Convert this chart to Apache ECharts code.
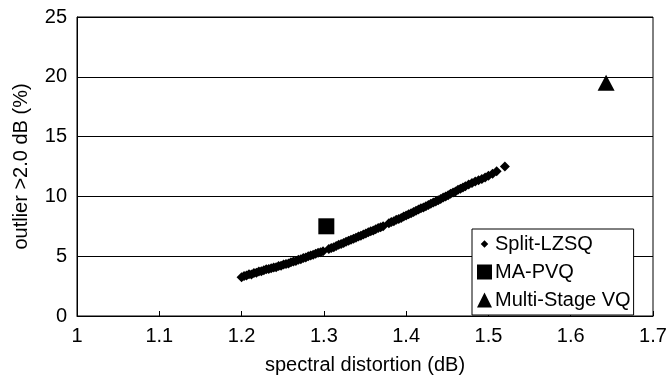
<!DOCTYPE html>
<html>
<head>
<meta charset="utf-8">
<script src="https://cdn.jsdelivr.net/npm/echarts@6/dist/echarts.min.js"></script>
<style>
  html, body { margin: 0; padding: 0; background: #fff; }
  #chart { width: 670px; height: 380px; }
</style>
</head>
<body>
<div id="chart"></div>
<script>
// spectral distortion (dB) vs outlier >2.0 dB (%)
const lzsqX = [1.200, 1.203, 1.206, 1.209, 1.212, 1.215, 1.218, 1.221, 1.224, 1.227,
  1.230, 1.233, 1.236, 1.239, 1.242, 1.245, 1.248, 1.251, 1.254, 1.257,
  1.260, 1.263, 1.266, 1.269, 1.272, 1.275, 1.278, 1.281, 1.284, 1.287,
  1.290, 1.293, 1.296, 1.299, 1.306, 1.309, 1.312, 1.315, 1.318, 1.321,
  1.324, 1.327, 1.330, 1.333, 1.336, 1.339, 1.342, 1.345, 1.348, 1.351,
  1.354, 1.357, 1.360, 1.363, 1.366, 1.369, 1.372, 1.379, 1.382, 1.385,
  1.388, 1.391, 1.394, 1.397, 1.400, 1.403, 1.406, 1.409, 1.412, 1.415,
  1.418, 1.421, 1.424, 1.427, 1.430, 1.433, 1.436, 1.439, 1.442, 1.445,
  1.448, 1.451, 1.454, 1.457, 1.460, 1.463, 1.466, 1.469, 1.472, 1.476,
  1.480, 1.484, 1.488, 1.492, 1.496, 1.500, 1.505, 1.510, 1.520];
const lzsqY = [3.25, 3.35, 3.38, 3.5, 3.48, 3.6, 3.62, 3.72, 3.75, 3.82,
  3.9, 3.92, 4.0, 4.05, 4.08, 4.18, 4.2, 4.3, 4.35, 4.4,
  4.5, 4.55, 4.6, 4.7, 4.75, 4.85, 4.9, 5.0, 5.05, 5.12,
  5.2, 5.28, 5.32, 5.42, 5.6, 5.68, 5.75, 5.85, 5.95, 6.02,
  6.1, 6.2, 6.3, 6.38, 6.45, 6.55, 6.65, 6.72, 6.82, 6.9,
  7.0, 7.08, 7.15, 7.25, 7.35, 7.42, 7.5, 7.75, 7.85, 7.92,
  8.05, 8.12, 8.2, 8.32, 8.4, 8.5, 8.6, 8.7, 8.8, 8.9,
  9.0, 9.08, 9.18, 9.28, 9.38, 9.48, 9.58, 9.68, 9.78, 9.9,
  10.0, 10.1, 10.22, 10.32, 10.42, 10.55, 10.65, 10.75, 10.85, 11.0,
  11.12, 11.25, 11.35, 11.45, 11.58, 11.72, 11.9, 12.1, 12.5];
const mapvq = [[1.303, 7.5]];
const multiStage = [[1.643, 19.5]];
const xTicks = [1, 1.1, 1.2, 1.3, 1.4, 1.5, 1.6, 1.7];
const yTicks = [0, 5, 10, 15, 20, 25];

const font = "'Liberation Sans', Arial, sans-serif";
const diamondIcon = 'path://M0,0h0.01v0.01h-0.01zM14,14h0.01v0.01h-0.01zM7,3.5L10.5,7L7,10.5L3.5,7Z';

const chart = echarts.init(document.getElementById('chart'));
chart.setOption({
  animation: false,
  backgroundColor: '#fff',
  textStyle: { fontFamily: font, color: '#000' },
  grid: {
    left: 77, right: 17, top: 17, bottom: 62,
    show: true, borderColor: '#000', borderWidth: 1
  },
  xAxis: {
    type: 'value',
    min: xTicks[0], max: xTicks[xTicks.length - 1], interval: 0.1,
    name: 'spectral distortion (dB)',
    nameLocation: 'middle', nameGap: 39,
    nameTextStyle: { fontSize: 20, color: '#000', fontFamily: font },
    axisLine: { lineStyle: { color: '#000', width: 1 } },
    axisTick: { show: true, inside: true, length: 5, lineStyle: { color: '#000' } },
    axisLabel: { fontSize: 20, color: '#000', margin: 10, fontFamily: font },
    splitLine: { show: false }
  },
  yAxis: {
    type: 'value',
    min: yTicks[0], max: yTicks[yTicks.length - 1], interval: 5,
    name: 'outlier >2.0 dB (%)',
    nameLocation: 'middle', nameGap: 46,
    nameTextStyle: { fontSize: 20, color: '#000', fontFamily: font },
    axisLine: { show: true, lineStyle: { color: '#000', width: 1 } },
    axisTick: { show: false },
    axisLabel: { fontSize: 20, color: '#000', margin: 10, fontFamily: font },
    splitLine: { show: true, lineStyle: { color: '#000', width: 1 } }
  },
  legend: {
    orient: 'vertical',
    left: 472, top: 229,
    padding: [5, 3, 5, 5],
    itemGap: 8,
    itemWidth: 15, itemHeight: 15,
    backgroundColor: '#fff',
    borderColor: '#000', borderWidth: 1, borderRadius: 0,
    textStyle: { fontSize: 20, color: '#000', fontFamily: font, padding: [0, 0, 0, -2] },
    data: [
      { name: 'Split-LZSQ', icon: diamondIcon },
      { name: 'MA-PVQ', icon: 'rect' },
      { name: 'Multi-Stage VQ', icon: 'triangle' }
    ]
  },
  series: [
    {
      name: 'Split-LZSQ',
      type: 'scatter',
      symbol: 'diamond',
      symbolSize: 10,
      itemStyle: { color: '#000', opacity: 1 },
      data: lzsqX.map((x, i) => [x, lzsqY[i]]),
      z: 3
    },
    {
      name: 'MA-PVQ',
      type: 'scatter',
      symbol: 'rect',
      symbolSize: 16,
      itemStyle: { color: '#000', opacity: 1 },
      data: mapvq
    },
    {
      name: 'Multi-Stage VQ',
      type: 'scatter',
      symbol: 'triangle',
      symbolSize: [17, 16],
      itemStyle: { color: '#000', opacity: 1 },
      data: multiStage
    }
  ]
});
</script>
</body>
</html>
